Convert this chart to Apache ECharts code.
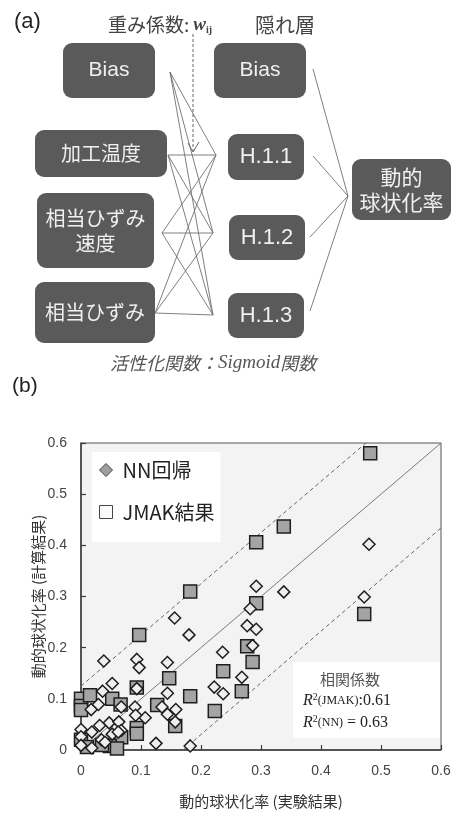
<!DOCTYPE html>
<html>
<head>
<meta charset="utf-8">
<script src="https://cdn.jsdelivr.net/npm/echarts@6/dist/echarts.min.js"></script>
<style>
  html, body { margin: 0; padding: 0; background: #ffffff; }
  #chart { width: 457px; height: 816px; }
</style>
</head>
<body>
<div id="chart"></div>
<script>
// Series names
const nnName = 'NN回帰';
const jmakName = 'JMAK結果';

// Axis ticks (both axes share the same scale)
const axisMin = 0;
const axisMax = 0.6;
const axisStep = 0.1;

// JMAK model results: [experimental, calculated]
const jmakPoints = [
  [0.482, 0.580], [0.338, 0.437], [0.292, 0.406], [0.182, 0.310], [0.097, 0.225],
  [0.292, 0.287], [0.472, 0.266], [0.277, 0.203], [0.286, 0.172], [0.237, 0.154],
  [0.182, 0.105], [0.268, 0.115], [0.223, 0.076], [0.157, 0.047], [0.147, 0.140],
  [0.093, 0.122], [0.127, 0.088], [0.093, 0.043], [0.093, 0.032], [0.067, 0.025],
  [0.048, 0.008], [0.000, 0.100], [0.000, 0.086], [0.000, 0.078], [0.000, 0.020],
  [0.010, 0.006], [0.015, 0.107], [0.052, 0.100], [0.066, 0.089], [0.035, 0.010],
  [0.060, 0.003]
];

// Neural-network regression results: [experimental, calculated]
const nnPoints = [
  [0.480, 0.402], [0.292, 0.320], [0.338, 0.309], [0.472, 0.299], [0.282, 0.276],
  [0.277, 0.243], [0.292, 0.236], [0.286, 0.204], [0.236, 0.191], [0.180, 0.225],
  [0.268, 0.142], [0.222, 0.123], [0.237, 0.110], [0.182, 0.008],
  [0.156, 0.258], [0.093, 0.177], [0.038, 0.174], [0.144, 0.171], [0.097, 0.161],
  [0.052, 0.130], [0.036, 0.115], [0.093, 0.120], [0.144, 0.111],
  [0.067, 0.084], [0.017, 0.079], [0.029, 0.089], [0.090, 0.084], [0.135, 0.084],
  [0.158, 0.079], [0.144, 0.070], [0.107, 0.063], [0.091, 0.068], [0.157, 0.055],
  [0.047, 0.053], [0.031, 0.048], [0.063, 0.055], [0.067, 0.038], [0.000, 0.040],
  [0.052, 0.031], [0.034, 0.020], [0.125, 0.013], [0.000, 0.026], [0.000, 0.009],
  [0.018, 0.004], [0.040, 0.015], [0.018, 0.035], [0.062, 0.035]
];

// Reference lines: y = x and the band limits
const identityLine = [[0, 0], [0.6, 0.6]];
const upperBand = [[0, 0.125], [0.475, 0.6]];
const lowerBand = [[0.17, 0], [0.6, 0.434]];

// Correlation summary
const corrTitle = '相関係数';
const r2Jmak = 0.61;
const r2NN = 0.63;

// ---------- network diagram (a) ----------
const CJK = '"Noto Sans CJK JP", "Noto Sans", sans-serif';
const SANS = '"Liberation Sans", Arial, sans-serif';
const SERIF = '"Liberation Serif", "DejaVu Serif", serif';
const BOX_FILL = '#5a5a5a';
const BOX_TEXT = '#f0f0f0';

function node(x, y, w, h, lines, font, size, lineGap) {
  const children = [{
    type: 'rect',
    shape: { x: x, y: y, width: w, height: h, r: 9 },
    style: { fill: BOX_FILL }
  }];
  const cy = y + h / 2;
  lines.forEach(function (t, i) {
    children.push({
      type: 'text',
      x: x + w / 2,
      y: cy + (i - (lines.length - 1) / 2) * lineGap,
      style: {
        text: t, fill: BOX_TEXT, fontFamily: font, fontSize: size,
        align: 'center', verticalAlign: 'middle'
      }
    });
  });
  return { type: 'group', children: children };
}

function link(x1, y1, x2, y2) {
  return {
    type: 'line',
    shape: { x1: x1, y1: y1, x2: x2, y2: y2 },
    style: { stroke: '#707070', lineWidth: 0.9 }
  };
}

const inputAnchors = [[170, 72], [168, 155], [162, 233], [155, 313]];
const hiddenAnchors = [[216, 155], [213, 233], [213, 315]];
const hiddenOut = [[313, 69], [313, 156], [310, 237], [310, 311]];
const outputIn = [348, 196];

const diagram = [];
inputAnchors.forEach(function (a) {
  hiddenAnchors.forEach(function (b) { diagram.push(link(a[0], a[1], b[0], b[1])); });
});
hiddenOut.forEach(function (a) { diagram.push(link(a[0], a[1], outputIn[0], outputIn[1])); });

diagram.push(
  node(63, 43, 92, 55, ['Bias'], SANS, 21, 0),
  node(35, 130, 132, 47, ['加工温度'], CJK, 20, 0),
  node(37, 193, 117, 75, ['相当ひずみ', '速度'], CJK, 20, 25),
  node(35, 282, 120, 61, ['相当ひずみ'], CJK, 20, 0),
  node(214, 43, 92, 55, ['Bias'], SANS, 21, 0),
  node(228, 134, 76, 46, ['H.1.1'], SANS, 22, 0),
  node(229, 215, 76, 45, ['H.1.2'], SANS, 22, 0),
  node(228, 293, 76, 45, ['H.1.3'], SANS, 22, 0),
  node(352, 159, 99, 61, ['動的', '球状化率'], CJK, 21, 25)
);

// dashed pointer to the weights
diagram.push({
  type: 'line',
  shape: { x1: 193, y1: 34, x2: 193, y2: 151 },
  style: { stroke: '#666', lineWidth: 1, lineDash: [3, 2] }
});
diagram.push({
  type: 'polyline',
  shape: { points: [[188, 143], [193, 152], [199, 142]] },
  style: { stroke: '#666', lineWidth: 1, fill: null }
});

// titles and captions
diagram.push(
  {
    type: 'text', x: 14, y: 22,
    style: { text: '(a)', fill: '#222', fontFamily: SANS, fontSize: 22, verticalAlign: 'middle' }
  },
  {
    type: 'text', x: 108, y: 25,
    style: {
      text: '{a|重み係数:}{w|w}{s|ij}',
      verticalAlign: 'middle',
      rich: {
        a: { fontFamily: CJK, fontSize: 19, fill: '#444' },
        w: { fontFamily: SERIF, fontSize: 19, fontStyle: 'italic', fontWeight: 'bold', fill: '#444', padding: [0, 0, 0, 4] },
        s: { fontFamily: SERIF, fontSize: 10, fontWeight: 'bold', fill: '#444', padding: [10, 0, 0, 0] }
      }
    }
  },
  {
    type: 'text', x: 255, y: 25,
    style: { text: '隠れ層', fill: '#444', fontFamily: CJK, fontSize: 20, verticalAlign: 'middle' }
  },
  {
    type: 'text', x: 110, y: 363,
    style: {
      text: '{j|活性化関数：}{s|Sigmoid}{j|関数}',
      verticalAlign: 'middle',
      rich: {
        j: { fontFamily: CJK, fontSize: 18, fontStyle: 'italic', fill: '#555' },
        s: { fontFamily: SERIF, fontSize: 19, fontStyle: 'italic', fill: '#555' }
      }
    }
  },
  {
    type: 'text', x: 12, y: 386,
    style: { text: '(b)', fill: '#222', fontFamily: SANS, fontSize: 21, verticalAlign: 'middle' }
  }
);

// correlation box in the scatter plot
diagram.push(
  {
    type: 'rect',
    shape: { x: 293, y: 662, width: 147, height: 76 },
    style: { fill: '#ffffff' },
    z: 5
  },
  {
    type: 'text', x: 350, y: 679, z: 6,
    style: { text: corrTitle, fill: '#555', fontFamily: CJK, fontSize: 15, align: 'center', verticalAlign: 'middle' }
  },
  {
    type: 'text', x: 303, y: 701, z: 6,
    style: {
      text: '{r|R}{p|2}{m|(JMAK)}{n|:' + r2Jmak.toFixed(2) + '}',
      verticalAlign: 'middle',
      rich: {
        r: { fontFamily: SERIF, fontStyle: 'italic', fontSize: 16, fill: '#222' },
        p: { fontFamily: SERIF, fontSize: 10, fill: '#222', padding: [0, 0, 8, 0] },
        m: { fontFamily: SERIF, fontSize: 12, fill: '#222' },
        n: { fontFamily: SERIF, fontSize: 16, fill: '#222' }
      }
    }
  },
  {
    type: 'text', x: 303, y: 723, z: 6,
    style: {
      text: '{r|R}{p|2}{m|(NN)}{n| = ' + r2NN.toFixed(2) + '}',
      verticalAlign: 'middle',
      rich: {
        r: { fontFamily: SERIF, fontStyle: 'italic', fontSize: 16, fill: '#222' },
        p: { fontFamily: SERIF, fontSize: 10, fill: '#222', padding: [0, 0, 8, 0] },
        m: { fontFamily: SERIF, fontSize: 12, fill: '#222' },
        n: { fontFamily: SERIF, fontSize: 16, fill: '#222' }
      }
    }
  }
);

// ---------- scatter plot (b) ----------
const chart = echarts.init(document.getElementById('chart'), null, { renderer: 'canvas' });

const tickFmt = function (v) { return v === 0 ? '0' : v.toFixed(1); };

function axisCommon(name, gap) {
  return {
    type: 'value',
    min: axisMin,
    max: axisMax,
    interval: axisStep,
    name: name,
    nameLocation: 'middle',
    nameGap: gap,
    nameTextStyle: { fontFamily: CJK, fontSize: 15, color: '#333' },
    axisLine: { show: true, onZero: false, lineStyle: { color: '#3a3a3a', width: 1.5 } },
    axisTick: { show: true, inside: true, length: 5, lineStyle: { color: '#3a3a3a', width: 1.2 } },
    axisLabel: { fontFamily: SANS, fontSize: 14, color: '#444', margin: 14, formatter: tickFmt },
    splitLine: { show: false }
  };
}

const yAxisOpt = axisCommon('動的球状化率 (計算結果)', 35);
yAxisOpt.nameMoveOverlap = false;

const option = {
  animation: false,
  backgroundColor: '#ffffff',
  grid: {
    left: 81, right: 16, top: 443, bottom: 66,
    show: true, backgroundColor: '#f3f3f3', borderColor: '#555', borderWidth: 1
  },
  xAxis: axisCommon('動的球状化率 (実験結果)', 44),
  yAxis: yAxisOpt,
  legend: {
    orient: 'vertical',
    left: 92, top: 452,
    padding: [8, 6, 20, 7],
    backgroundColor: '#ffffff',
    itemGap: 22,
    itemWidth: 13, itemHeight: 13,
    textStyle: { fontFamily: CJK, fontSize: 20, color: '#222', padding: [0, 0, 0, 5] },
    data: [
      { name: nnName, icon: 'diamond', itemStyle: { color: '#9f9f9f', borderColor: '#444', borderWidth: 1 } },
      { name: jmakName, icon: 'rect', itemStyle: { color: '#fafafa', borderColor: '#444', borderWidth: 1 } }
    ]
  },
  series: [
    {
      type: 'line', data: identityLine, symbol: 'none', silent: true,
      lineStyle: { color: '#7a7a7a', width: 1 }, z: 1
    },
    {
      type: 'line', data: upperBand, symbol: 'none', silent: true,
      lineStyle: { color: '#666', width: 1, type: [4, 3] }, z: 1
    },
    {
      type: 'line', data: lowerBand, symbol: 'none', silent: true,
      lineStyle: { color: '#666', width: 1, type: [4, 3] }, z: 1
    },
    {
      name: jmakName, type: 'scatter', data: jmakPoints,
      symbol: 'rect', symbolSize: 13,
      itemStyle: { color: '#a4a4a4', borderColor: '#1e1e1e', borderWidth: 1.5, opacity: 1 },
      z: 3
    },
    {
      name: nnName, type: 'scatter', data: nnPoints,
      symbol: 'diamond', symbolSize: 12,
      itemStyle: { color: '#efefef', borderColor: '#1e1e1e', borderWidth: 1.5, opacity: 1 },
      z: 4
    }
  ],
  graphic: diagram
};

chart.setOption(option);
</script>
</body>
</html>
